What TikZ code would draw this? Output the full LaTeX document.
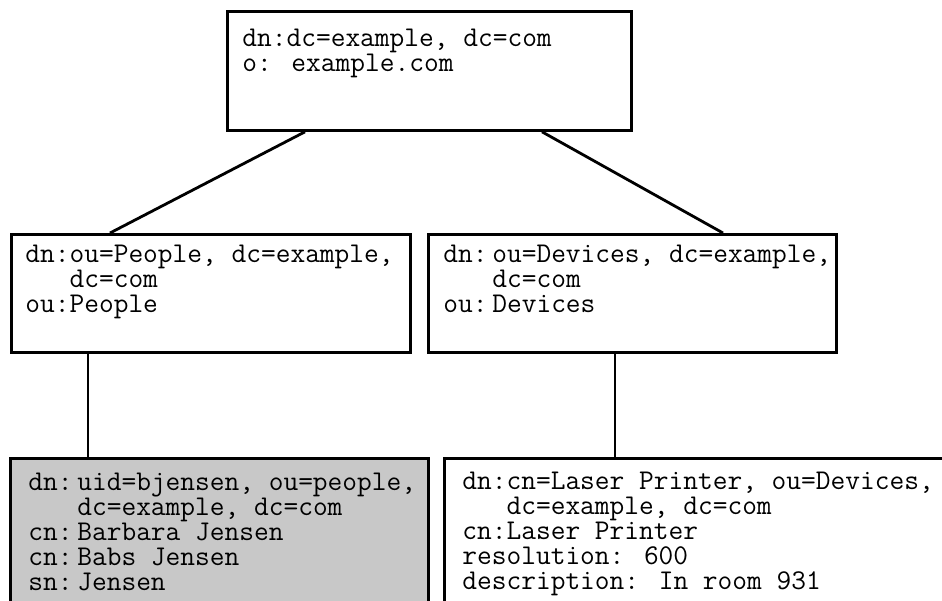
\documentclass[tikz,border=0pt]{standalone}
\usepackage{fontspec}
\usetikzlibrary{positioning,calc}

\definecolor{entrygray}{RGB}{200,200,200}
\newcommand{\ldapfont}{\ttfamily\fontsize{14.3pt}{12.5pt}\selectfont}

\begin{document}
\begin{tikzpicture}[x=0.5pt,y=-0.5pt,
  entry/.style={draw,line width=1.4pt,anchor=north west,inner sep=0pt},
  attrs/.style={anchor=north west,inner sep=0pt,align=left,font=\ldapfont},
  link/.style={line width=1.4pt}]

\clip (0,0) rectangle (942,600);

%%%%%%%%%%%%%%%%%%%%%% ROOT

\node[entry,minimum width=202pt,minimum height=59.5pt] (root) at (226,10) {};
\node[attrs] (rootTxt) at ([xshift=8pt,yshift=-9.5pt]root.north west) {dn:dc=example, dc=com\\o: example.com};

%%%%%%%%%%%%%%%%%%%%%% OU

\node[entry,minimum width=199.5pt,minimum height=59pt] (people) at (10,233) {};
\node[attrs] (peopleTxt) at ([xshift=7.5pt,yshift=-6pt]people.north west) {dn:ou=People, dc=example,\\\phantom{dn:}dc=com\\ou:People};

\node[entry,minimum width=204pt,minimum height=59pt] (devices) at (427,233) {};
\node[attrs] (devicesTxt) at ([xshift=8pt,yshift=-6pt]devices.north west) {dn:\,ou=Devices, dc=example,\\\phantom{dn:\,}dc=com\\ou:\,Devices};

\draw[link] ([xshift=39.5pt]root.south west) -- ([xshift=50pt]people.north west);
\draw[link] ([xshift=158pt]root.south west) -- ([xshift=148pt]devices.north west);

%%%%%%%%%%%%%%%%%%%%%% LEAVES

\node[entry,fill=entrygray,minimum width=209pt,minimum height=80pt] (bjensen) at (9,457) {};
\node[attrs] (bjensenTxt) at ([xshift=9.5pt,yshift=-8pt]bjensen.north west) {dn:\,uid=bjensen, ou=people,\\\phantom{dn:\,}dc=example, dc=com\\cn:\,Barbara Jensen\\cn:\,Babs Jensen\\sn:\,Jensen};

\node[entry,minimum width=265pt,minimum height=80pt] (printer) at (443,457) {};
\node[attrs] (printerTxt) at ([xshift=9.5pt,yshift=-7.5pt]printer.north west) {dn:cn=Laser Printer, ou=Devices,\\\phantom{dn:}dc=example, dc=com\\cn:Laser Printer\\resolution: 600\\description: In room 931};

\draw[link] ([xshift=39pt]people.south west) -- ([xshift=39.5pt]bjensen.north west);
\draw[link] ([xshift=94pt]devices.south west) -- ([xshift=86pt]printer.north west);

\end{tikzpicture}
\end{document}
